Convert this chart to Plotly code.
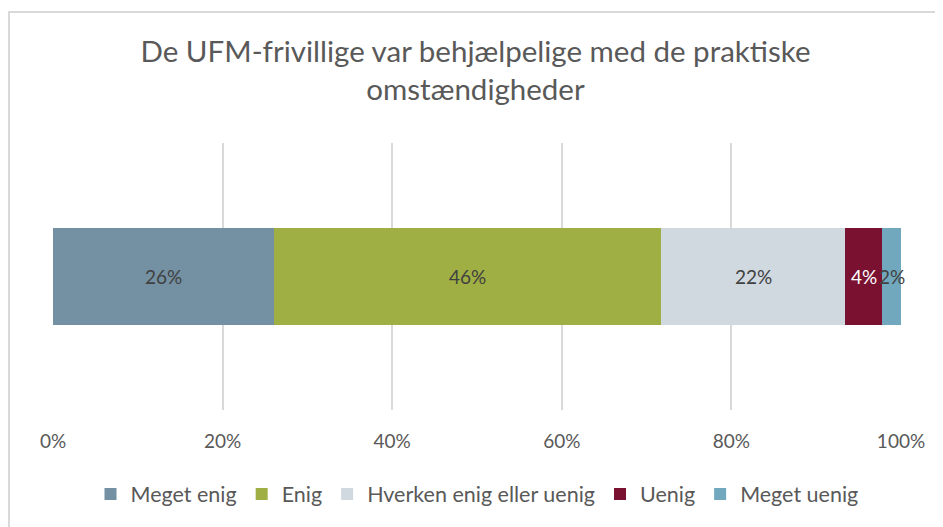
import plotly.graph_objects as go

categories = ["Meget enig", "Enig", "Hverken enig eller uenig", "Uenig", "Meget uenig"]
values = [0.261, 0.456, 0.217, 0.044, 0.022]
labels = ["26%", "46%", "22%", "4%", "2%"]
colors = ["#7391A3", "#9FAF43", "#D0D8E0", "#7A1131", "#72A8BE"]
label_colors = ["#404040", "#404040", "#404040", "#FFFFFF", "#404040"]
ticks = [0, 0.2, 0.4, 0.6, 0.8, 1.0]
tick_text = ["0%", "20%", "40%", "60%", "80%", "100%"]

FONT = "Lato"
W, H = 935, 519
ML, MR, MT, MB = 45, 42, 135, 117
PW, PH = W - ML - MR, H - MT - MB

fig = go.Figure()
cum = 0
annotations = []
for name, v, lab, c, lc in zip(categories, values, labels, colors, label_colors):
    fig.add_trace(go.Bar(
        x=[v], y=[""], name=name, orientation="h",
        marker=dict(color=c, line=dict(width=0)),
        width=0.36, hoverinfo="name+x",
    ))
    annotations.append(dict(
        x=cum + v / 2, y=0, xref="x", yref="y", text=lab, showarrow=False,
        font=dict(family=FONT, size=19, color=lc),
    ))
    cum += v

fig.update_layout(
    barmode="stack",
    width=W, height=H,
    margin=dict(l=ML, r=MR, t=MT, b=MB),
    paper_bgcolor="white", plot_bgcolor="white",
    title=dict(
        text="De UFM-frivillige var behjælpelige med de praktiske<br>omstændigheder",
        x=0.5, xanchor="center", y=1 - 54 / H, yanchor="top",
        font=dict(family=FONT, size=29.5, color="#595959"),
    ),
    xaxis=dict(
        range=[0, 1], tickvals=ticks, ticktext=tick_text,
        showgrid=True, gridcolor="#D9D9D9", gridwidth=1.5,
        zeroline=False, showline=False,
        ticks="", ticklabelstandoff=18,
        tickfont=dict(family=FONT, size=19, color="#595959"),
    ),
    yaxis=dict(range=[-0.5, 0.5], showticklabels=False, showgrid=False, zeroline=False),
    legend=dict(
        orientation="h", x=0.5, xanchor="center", y=-0.315, yanchor="middle",
        font=dict(family=FONT, size=21.5, color="#595959"),
        itemwidth=30, traceorder="normal", itemclick=False,
    ),
    annotations=annotations,
    shapes=[dict(
        type="rect", xref="paper", yref="paper",
        x0=(1 - ML) / PW, x1=1.2, y0=-0.6, y1=1 + (MT - 4) / PH,
        line=dict(color="#D9D9D9", width=2), fillcolor="rgba(0,0,0,0)", layer="below",
    )],
    showlegend=True,
)

fig.write_html("out.html")
